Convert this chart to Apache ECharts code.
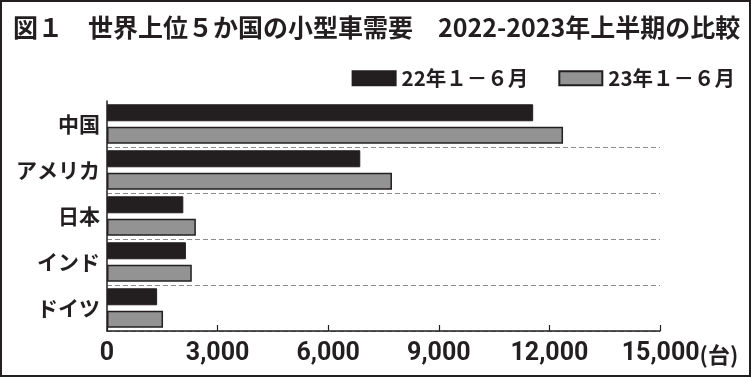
<!DOCTYPE html>
<html>
<head>
<meta charset="utf-8">
<script src="https://cdn.jsdelivr.net/npm/echarts@6/dist/echarts.min.js"></script>
<style>
  html, body { margin: 0; padding: 0; background: #fff; }
  #chart { width: 751px; height: 377px; }
</style>
</head>
<body>
<div id="chart"></div>
<script>
// 国名（上から順）
const countries = ['中国', 'アメリカ', '日本', 'インド', 'ドイツ'];
// 22年1-6月 / 23年1-6月（台、図から読み取り）
const sales2022 = [11560, 6870, 2070, 2140, 1360];
const sales2023 = [12370, 7730, 2410, 2300, 1520];
const seriesNames = ['22年１－６月', '23年１－６月'];
const xTicks = [0, 3000, 6000, 9000, 12000, 15000];

const ink = '#231f20';
const cjk = '"Noto Sans CJK JP", sans-serif';
const digits = 'Roboto, "Noto Sans", sans-serif';

const myChart = echarts.init(document.getElementById('chart'));
const options = {
  animation: false,
  backgroundColor: '#fff',
  title: {
    text: '図１　世界上位５か国の小型車需要　2022-2023年上半期の比較',
    left: 8,
    top: 10,
    textStyle: {
      fontFamily: cjk,
      fontWeight: 'bold',
      fontSize: 25,
      color: ink,
    },
  },
  legend: {
    data: seriesNames,
    right: 11,
    top: 63,
    itemWidth: 43,
    itemHeight: 14,
    itemGap: 30,
    icon: 'rect',
    textStyle: {
      fontFamily: cjk,
      fontWeight: 'bold',
      fontSize: 20.5,
      color: ink,
      padding: [0, 0, 0, 1],
    },
  },
  graphic: [
    {
      type: 'rect',
      shape: { x: 1, y: 1, width: 749, height: 375 },
      style: { fill: 'none', stroke: ink, lineWidth: 2 },
      silent: true,
    },
  ],
  grid: {
    left: 107,
    right: 91,
    top: 101,
    bottom: 46,
  },
  xAxis: {
    type: 'value',
    min: 0,
    max: 15000,
    interval: 3000,
    axisLine: { show: true, lineStyle: { color: ink, width: 1.5 } },
    axisTick: { show: true, inside: true, length: 6, lineStyle: { color: ink, width: 1.2 } },
    splitLine: { show: false },
    axisLabel: {
      margin: 10,
      showMaxLabel: true,
      hideOverlap: false,
      fontFamily: digits,
      fontWeight: 'bold',
      fontSize: 25,
      color: ink,
      formatter: function (v) {
        const s = v.toLocaleString('en-US');
        if (v === xTicks[xTicks.length - 1]) {
          return '{pad|}' + s + '{u|(台)}';
        }
        return s;
      },
      rich: {
        pad: { width: 40 },
        u: { fontFamily: cjk, fontWeight: 'bold', fontSize: 22, color: ink, padding: [2, 0, 0, 0] },
      },
    },
  },
  yAxis: {
    type: 'category',
    data: countries,
    inverse: true,
    axisLine: { show: true, lineStyle: { color: ink, width: 1.5 } },
    axisTick: { show: false },
    splitLine: {
      show: true,
      interval: function (i) { return i !== 0; },
      lineStyle: { color: '#8a8a8a', type: [5, 3], width: 1 },
    },
    axisLabel: {
      margin: 7,
      fontFamily: cjk,
      fontWeight: 'bold',
      fontSize: 21,
      color: ink,
    },
  },
  series: [
    {
      name: seriesNames[0],
      type: 'bar',
      data: sales2022,
      barWidth: 17,
      barGap: '32%',
      itemStyle: { color: ink, borderColor: ink, borderWidth: 1 },
    },
    {
      name: seriesNames[1],
      type: 'bar',
      data: sales2023,
      barWidth: 17,
      itemStyle: { color: '#939393', borderColor: ink, borderWidth: 1.5 },
    },
  ],
};
myChart.setOption(options);
</script>
</body>
</html>
